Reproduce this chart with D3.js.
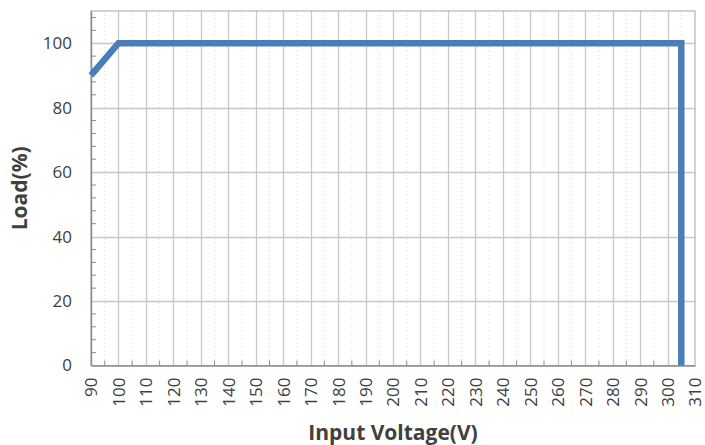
<!DOCTYPE html>
<html><head><meta charset="utf-8">
<script src="https://cdn.jsdelivr.net/npm/d3@7"></script>
<style>body{margin:0;background:#fff}svg{display:block}text{font-family:"Open Sans",sans-serif;fill:#404040}</style>
</head><body>
<svg id="c" width="705" height="445"></svg>
<script>
const voltage = [90, 100, 305, 305];
const load = [90, 100, 100, 0];
const xTicks = d3.range(90, 311, 10);
const yTicks = [0, 20, 40, 60, 80, 100];
const xTitle = "Input Voltage(V)";
const yTitle = "Load(%)";

const svg = d3.select("#c");
const L = 91, R = 695, T = 11, B = 365.5;
const x = d3.scaleLinear().domain([90, 310]).range([L, R]);
const y = d3.scaleLinear().domain([0, 110]).range([B, T]);

const g = svg.append("g");
g.selectAll(".mx").data(d3.range(95, 310, 10)).join("line")
  .attr("x1", d => x(d)).attr("x2", d => x(d)).attr("y1", T).attr("y2", B)
  .attr("stroke", "#d8d8d8").attr("stroke-width", 1).attr("stroke-dasharray", "1,3");
g.selectAll(".gx").data(xTicks.slice(1, -1)).join("line")
  .attr("x1", d => Math.round(x(d)) + 0.5).attr("x2", d => Math.round(x(d)) + 0.5).attr("y1", T).attr("y2", B)
  .attr("stroke", "#c8c8c8").attr("stroke-width", 1.3);
g.selectAll(".gy").data(yTicks.slice(1)).join("line")
  .attr("y1", d => Math.round(y(d)) + 0.5).attr("y2", d => Math.round(y(d)) + 0.5).attr("x1", L).attr("x2", R)
  .attr("stroke", "#c8c8c8").attr("stroke-width", 1.3);
svg.append("rect").attr("x", L).attr("y", T).attr("width", R - L).attr("height", B - T)
  .attr("fill", "none").attr("stroke", "#a6a6a6").attr("stroke-width", 1);

const xAxis = svg.append("g").attr("transform", `translate(0,${B})`)
  .call(d3.axisBottom(x).tickValues(xTicks).tickSize(0).tickFormat(d3.format("d")));
xAxis.select(".domain").attr("stroke", "#8c8c8c").attr("stroke-width", 1.5);
xAxis.selectAll("text").attr("transform", "rotate(-90)").attr("text-anchor", "end")
  .attr("x", -12).attr("y", 0).attr("dy", "0.35em")
  .attr("font-size", 17).style("font-size", "17px").attr("fill", "#404040");
svg.append("g").selectAll("line").data(d3.range(95, 310, 10)).join("line")
  .attr("x1", d => x(d)).attr("x2", d => x(d)).attr("y1", B).attr("y2", B - 5)
  .attr("stroke", "#8c8c8c");

const yAxis = svg.append("g").attr("transform", `translate(${L},0)`)
  .call(d3.axisLeft(y).tickValues(yTicks).tickSize(0).tickPadding(19));
yAxis.select(".domain").attr("stroke", "#8c8c8c").attr("stroke-width", 1.5);
yAxis.selectAll("text").attr("font-size", 17).style("font-size", "17px").attr("fill", "#404040");
svg.append("g").selectAll("line").data(d3.range(4, 110, 4).filter(d => d % 20 !== 0)).join("line")
  .attr("x1", L).attr("x2", L + 5).attr("y1", d => y(d)).attr("y2", d => y(d))
  .attr("stroke", "#8c8c8c");

svg.append("path").datum(voltage.map((v, i) => [v, load[i]]))
  .attr("d", d3.line().x(d => x(d[0])).y(d => y(d[1])))
  .attr("fill", "none").attr("stroke", "#4a7ebb").attr("stroke-width", 6.5).attr("stroke-linejoin", "miter");

svg.append("text").attr("x", (L + R) / 2).attr("y", 440).attr("text-anchor", "middle")
  .style("font-size", "21px").style("font-weight", "bold").text(xTitle);
svg.append("text").attr("transform", `translate(27,${(T + B) / 2}) rotate(-90)`).attr("text-anchor", "middle")
  .style("font-size", "21px").style("font-weight", "bold").text(yTitle);
</script>
</body></html>
